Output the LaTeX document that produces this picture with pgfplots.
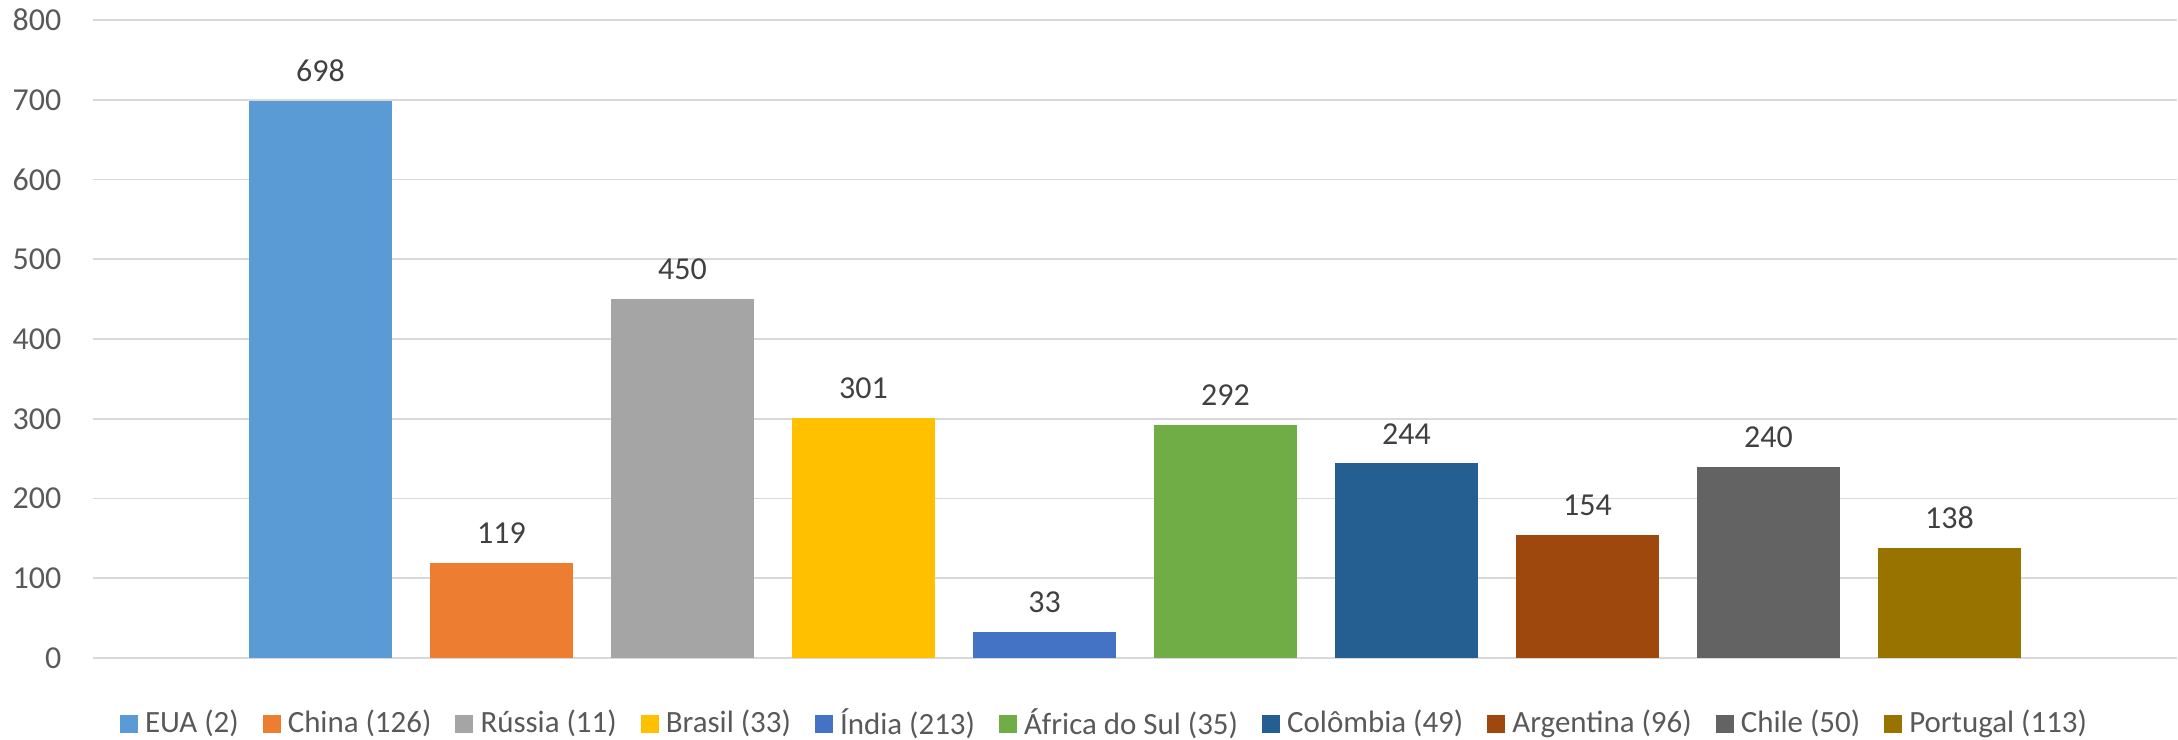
\documentclass[border=0pt]{standalone}
\usepackage{fontspec}
\setmainfont{Carlito}
\usepackage{pgfplots}
\pgfplotsset{compat=1.18}
\definecolor{cEUA}{HTML}{5B9BD5}
\definecolor{cChina}{HTML}{ED7D31}
\definecolor{cRussia}{HTML}{A5A5A5}
\definecolor{cBrasil}{HTML}{FFC000}
\definecolor{cIndia}{HTML}{4472C4}
\definecolor{cAfrica}{HTML}{70AD47}
\definecolor{cColombia}{HTML}{255E91}
\definecolor{cArgentina}{HTML}{9E480E}
\definecolor{cChile}{HTML}{636363}
\definecolor{cPortugal}{HTML}{997300}
\definecolor{gridc}{HTML}{D9D9D9}
\definecolor{tickc}{HTML}{595959}
\definecolor{labc}{HTML}{404040}
\begin{document}
\begin{tikzpicture}
\useasboundingbox (-0.93cm,-0.82cm) rectangle (20.85cm,6.58cm);
\begin{axis}[
  scale only axis,
  width=20.84cm, height=6.38cm,
  ybar, bar shift=0pt, bar width=0.79,
  xmin=-1.257, xmax=10.257,
  ymin=0, ymax=800,
  ytick={0,100,...,800},
  xtick=\empty,
  axis line style={draw=none},
  major tick length=0pt,
  ymajorgrids,
  grid style={color=gridc, line width=0.55pt},
  /pgf/number format/assume math mode=true,
  yticklabel style={font=\fontsize{9.1}{10}\selectfont, text=tickc, anchor=east, inner sep=0pt, xshift=-0.31cm},
  nodes near coords,
  every node near coord/.append style={font=\fontsize{9.1}{10}\selectfont, text=labc, anchor=south, inner sep=0pt, yshift=5.3pt},
  clip=false,
  legend columns=-1,
  legend style={draw=none, at={(0.4866,-0.1034)}, anchor=center, font=\fontsize{8.8}{10}\selectfont, text=tickc,
    /tikz/every even column/.append style={column sep=0.17cm}},
  legend image code/.code={\fill[#1] (0cm,-0.09cm) rectangle (0.18cm,0.09cm);},
]
\addplot[fill=cEUA, draw=none] coordinates {(0,698)};
\addplot[fill=cChina, draw=none] coordinates {(1,119)};
\addplot[fill=cRussia, draw=none] coordinates {(2,450)};
\addplot[fill=cBrasil, draw=none] coordinates {(3,301)};
\addplot[fill=cIndia, draw=none] coordinates {(4,33)};
\addplot[fill=cAfrica, draw=none] coordinates {(5,292)};
\addplot[fill=cColombia, draw=none] coordinates {(6,244)};
\addplot[fill=cArgentina, draw=none] coordinates {(7,154)};
\addplot[fill=cChile, draw=none] coordinates {(8,240)};
\addplot[fill=cPortugal, draw=none] coordinates {(9,138)};
\legend{EUA (2), China (126), Rússia (11), Brasil (33), Índia (213), África do Sul (35), Colômbia (49), Argentina (96), Chile (50), Portugal (113)}
\end{axis}
\end{tikzpicture}
\end{document}
